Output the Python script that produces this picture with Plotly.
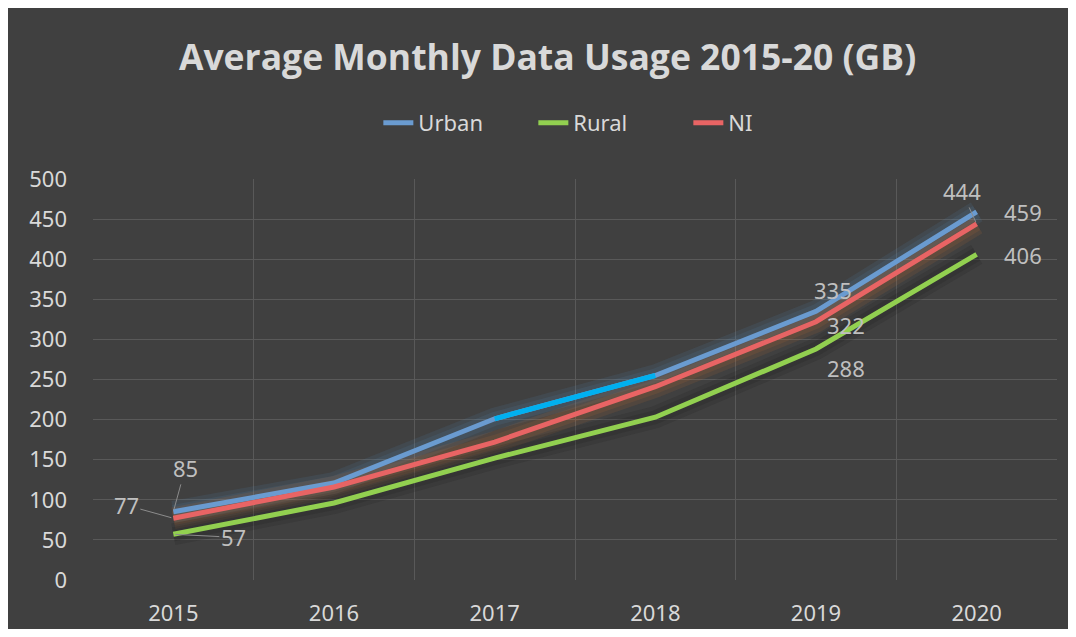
import plotly.graph_objects as go

# data
years = ["2015", "2016", "2017", "2018", "2019", "2020"]
urban = [85, 121, 201, 255, 335, 459]
rural = [57, 96, 152, 203, 288, 406]
ni = [77, 116, 172, 241, 322, 444]

BG = "#404040"
GRID = "#595959"
TXT = "#D9D9D9"
LBL = "#BFBFBF"

x = list(range(len(years)))

fig = go.Figure()

# soft glow under the lines
glows = [(urban, "rgba(91,155,213,0.10)"), (ni, "rgba(237,125,49,0.10)"), (rural, "rgba(20,20,20,0.14)")]
for vals, col in glows:
    for w in (22, 14):
        fig.add_trace(go.Scatter(x=x, y=vals, mode="lines", line=dict(color=col, width=w),
                                 hoverinfo="skip", showlegend=False))

series = [("Urban", urban, "#6A9BD0"), ("Rural", rural, "#92D050"), ("NI", ni, "#E86464")]
for name, vals, col in series:
    fig.add_trace(go.Scatter(x=x, y=vals, name=name, mode="lines",
                             line=dict(color=col, width=5)))

# highlighted urban segment 2017-2018
fig.add_trace(go.Scatter(x=x[2:4], y=urban[2:4], mode="lines", line=dict(color="#00B0F0", width=5),
                         hoverinfo="skip", showlegend=False))

# data labels: (series values, index, ax, ay, leader line)
labels = [
    (urban, 0, 12, -44, True),
    (ni, 0, -47, -13, True),
    (rural, 0, 60, 3, True),
    (ni, 5, -15, -33, True),
    (urban, 4, 17, -21, False),
    (ni, 4, 30, 3, False),
    (rural, 4, 30, 19, False),
    (urban, 5, 46, 0, False),
    (rural, 5, 46, 1, False),
]
for vals, i, ax, ay, arrow in labels:
    if arrow:
        fig.add_annotation(x=i, y=vals[i], text=str(vals[i]), showarrow=True, ax=ax, ay=ay,
                           arrowhead=0, arrowwidth=1, arrowcolor="#8C8C8C", standoff=2,
                           font=dict(size=22, color=LBL, family="Noto Sans"))
    else:
        fig.add_annotation(x=i, y=vals[i], text=str(vals[i]), showarrow=False,
                           xshift=ax, yshift=-ay,
                           font=dict(size=22, color=LBL, family="Noto Sans"))

fig.update_layout(
    width=1060, height=621,
    paper_bgcolor=BG, plot_bgcolor=BG,
    margin=dict(l=85, r=11, t=171, b=49),
    font=dict(family="Noto Sans", color=TXT, size=22),
    title=dict(text="<b>Average Monthly Data Usage 2015-20 (GB)</b>", x=0.509, xanchor="center",
               y=1 - 50 / 621, yanchor="middle",
               font=dict(family="Open Sans", size=35.5, color=TXT)),
    legend=dict(orientation="h", x=0.296, xanchor="left", y=1.14, yanchor="middle",
                entrywidth=110, font=dict(size=22, color=TXT), bgcolor="rgba(0,0,0,0)"),
    showlegend=True,
)
fig.update_xaxes(range=[-0.5, 5.5], tickvals=x, ticktext=years, showgrid=False, zeroline=False,
                 ticks="", ticklabelstandoff=18, tickfont=dict(size=22, color=TXT), automargin=False,
                 minor=dict(tick0=-0.5, dtick=1, showgrid=True, gridcolor=GRID, gridwidth=1))
fig.update_yaxes(range=[0, 500], dtick=50, showgrid=True, gridcolor=GRID, gridwidth=1, automargin=False,
                 zeroline=False, ticks="", ticklabelstandoff=25, tickfont=dict(size=22, color=TXT))

fig.write_html("out.html")
